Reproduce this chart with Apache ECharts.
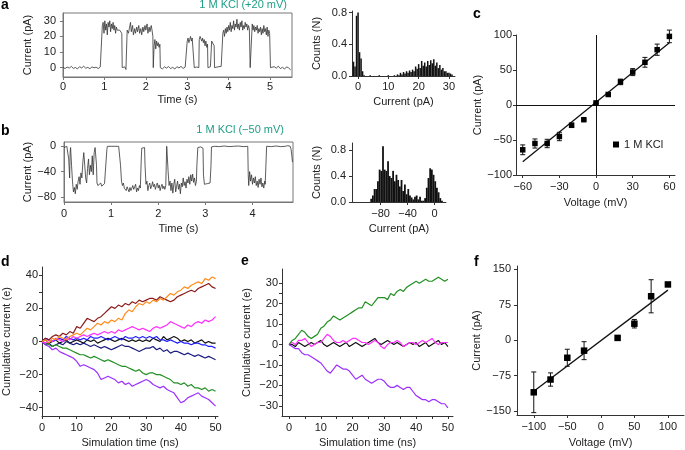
<!DOCTYPE html>
<html><head><meta charset="utf-8">
<script src="https://cdn.jsdelivr.net/npm/echarts@6/dist/echarts.min.js"></script>
<style>html,body{margin:0;padding:0;background:#fff}#chart{width:685px;height:450px}</style>
</head><body><div id="chart"></div>
<script>
// ---------- DATA ----------
const aTime = [0.00,0.05,0.10,0.15,0.20,0.25,0.30,0.35,0.40,0.45,0.50,0.55,0.60,0.65,0.70,0.75,0.80,0.85,0.90,0.94,
0.95,0.97,0.99,1.01,1.03,1.05,1.07,1.09,1.11,1.13,1.15,1.17,1.19,1.21,1.23,1.25,1.27,1.29,1.31,1.33,1.35,1.37,1.40,1.42,
1.43,1.46,1.49,1.52,1.54,
1.55,1.58,1.61,1.63,1.65,1.68,1.70,1.73,1.75,1.78,1.80,1.83,1.85,1.88,1.90,1.93,1.95,1.98,2.00,2.03,2.05,2.08,2.10,2.13,2.15,2.17,
2.18,2.19,2.20,2.22,2.24,2.26,2.28,2.30,2.32,2.34,
2.35,2.40,2.45,2.50,2.55,2.60,2.65,2.70,2.75,2.80,2.85,2.90,2.95,2.99,
3.00,3.02,3.04,3.06,3.08,3.10,3.12,3.14,3.16,
3.17,3.20,3.23,3.26,3.28,
3.29,3.31,3.33,3.35,3.37,3.39,3.41,3.43,3.45,3.47,3.49,
3.50,3.53,3.56,3.58,
3.59,3.61,3.63,3.65,
3.66,3.70,3.74,3.78,3.82,3.85,
3.86,3.88,3.90,3.92,3.94,3.96,3.98,4.00,4.02,4.04,4.06,4.08,4.10,4.12,4.14,4.16,4.18,4.20,4.22,4.24,4.26,4.28,4.30,4.32,4.34,4.36,4.38,4.40,4.42,4.44,4.46,4.48,4.50,4.51,
4.52,4.55,4.56,
4.57,4.59,4.61,4.63,4.65,4.67,4.69,4.71,4.73,4.75,4.77,4.79,4.81,4.83,4.85,4.87,4.89,4.91,4.93,4.95,4.97,4.99,5.00,
5.01,5.05,5.10,5.15,5.20,5.25,5.30,5.35,5.40,5.45,5.50];
const aCurrent = [0.2,-0.6,0.4,-0.3,0.8,-0.5,0.1,-0.8,0.6,-0.2,0.9,-0.4,0.2,-0.7,0.5,-0.1,0.3,-0.6,0.4,0.0,
27,29,22,30,24,28,21,29,26,30,23,28,25,29,24,27,22,26,24,25,23,24,23,22,
0,-1,0.5,-1.2,0,
24,22,26,29,23,27,21,25,22,26,23,27,22,25,21,26,23,27,24,28,22,26,23,27,24,20,
0,-1,14,18,12,17,14,16,13,15,
0,-0.8,0.5,-0.3,0.7,-0.6,0.2,-0.9,0.6,-0.2,0.8,-0.5,0.3,0,
17,19,16,18,20,17,19,18,20,
0,-1,0.4,-0.6,0,
18,20,19,17,19,16,18,14,17,13,15,
0,-1,0.6,0,
17,16,17,14,
0,-1,0.5,-0.4,0.8,0,
22,24,20,25,22,26,23,27,24,29,23,27,25,30,24,28,26,31,25,28,24,29,26,30,24,27,25,29,26,28,24,27,25,26,
0,-1,0,
28,24,27,23,26,24,27,22,25,23,26,21,25,22,27,23,25,21,26,20,24,22,23,
0,-0.8,0.6,-0.3,0.9,-0.6,0.2,-0.9,0.5,-0.2,-1.5];

const aHistCurrent = [-1.5,-1,-0.5,0,0.5,1,1.5,2,4,7,10,12,13,13.5,14,14.5,15,15.5,16,16.5,17,17.5,18,18.5,19,19.5,20,20.5,21,21.5,22,22.5,23,23.5,24,24.5,25,25.5,26,26.5,27,27.5,28,28.5,29,29.5,30,30.5,31];
const aHistCount = [0.18,0.12,0.76,0.80,0.30,0.22,0.06,0.01,0.01,0.01,0.01,0.01,
0.02,0.01,0.04,0.02,0.05,0.03,0.06,0.04,0.07,0.05,0.08,0.06,0.12,0.09,0.15,0.10,0.19,0.13,0.17,0.12,
0.19,0.14,0.20,0.16,0.21,0.13,0.17,0.10,0.14,0.08,0.10,0.06,0.06,0.04,0.04,0.03,0.02];

const bTime = [0.00,0.02,0.04,0.06,0.08,0.10,0.12,0.13,0.14,0.16,0.18,0.20,0.22,0.24,0.26,0.28,0.30,0.32,0.34,0.36,0.38,0.40,0.42,0.44,0.46,0.48,0.50,0.52,0.54,0.56,0.58,0.60,0.62,0.64,0.66,0.68,0.69,
0.70,0.72,0.74,0.76,0.78,0.80,0.82,0.84,0.86,0.88,0.89,
0.91,0.92,0.96,1.00,1.04,1.08,1.12,1.16,1.19,
1.20,1.22,1.24,1.26,1.28,1.30,1.32,1.34,1.36,1.38,1.40,1.42,1.44,1.46,1.48,1.50,1.52,1.54,1.56,1.58,1.60,1.62,
1.64,1.65,1.68,1.71,
1.72,1.74,1.76,1.78,1.80,1.82,1.84,1.86,1.88,1.90,1.92,1.94,1.96,1.98,2.00,2.02,2.04,2.06,2.08,2.10,2.12,2.14,2.16,
2.17,2.18,2.20,
2.21,2.23,2.25,2.27,2.29,2.31,2.33,2.35,2.37,2.39,2.41,2.43,2.45,2.47,2.49,2.51,2.53,2.55,2.57,2.59,2.61,2.63,2.65,2.67,2.69,2.71,2.73,2.75,2.77,2.79,2.81,
2.82,2.84,2.86,2.90,2.93,2.95,
2.96,2.98,3.00,3.02,3.04,3.06,3.08,3.10,
3.12,3.13,3.20,3.30,3.40,3.50,3.60,3.70,3.80,3.90,
3.91,3.92,3.94,3.96,3.98,4.00,4.02,4.04,4.06,4.08,4.10,4.12,4.14,4.16,4.18,4.20,4.22,4.24,4.26,4.27,
4.29,4.30,4.40,4.50,4.60,4.70,4.75,4.78,4.80,4.82,4.85];
const bCurrent = [-2,0,-5,0,-3,-20,-50,-10,-2,-30,-55,-72,-65,-75,-60,-68,-55,-48,-60,-42,-50,-25,-10,-30,-50,-58,-35,-20,-45,-30,-40,-15,-45,-10,-2,-5,-30,
-58,-62,-60,-65,-58,-63,-60,-66,-59,-62,-60,
-5,0,-0.5,0,-1,0,-0.5,0,-1,
-30,-55,-62,-58,-66,-63,-70,-64,-68,-72,-65,-70,-66,-62,-68,-64,-60,-72,-66,-70,-62,-66,
-20,-3,0,-2,
-30,-60,-55,-70,-62,-58,-67,-63,-56,-64,-60,-68,-62,-58,-66,-61,-70,-64,-60,-67,-63,-68,-62,
-30,0,-2,
-40,-62,-55,-70,-58,-74,-60,-52,-72,-63,-55,-68,-60,-75,-58,-64,-50,-62,-56,-66,-52,-58,-48,-60,-45,-55,-44,-57,-50,-62,-55,
-30,-2,0,-1,0,-3,
-45,-60,-58,-62,-59,-61,-60,-58,
-30,-1,0,-0.5,0.5,-0.5,0,0.5,-0.5,0,
-45,-62,-40,-55,-45,-60,-50,-58,-48,-62,-55,-65,-52,-60,-50,-64,-58,-66,-55,-60,
-20,0,-0.5,0.5,-0.5,0,1,3,0,-5,-25];

const bHistCurrent = [-94,-91.5,-89,-86.5,-84,-81.5,-79,-76.5,-74,-71.5,-69,-66.5,-64,-61.5,-59,-56.5,-54,-51.5,-49,-46.5,-44,-41.5,-39,-36.5,-34,-31.5,-29,-26.5,-24,-21.5,-19,-16.5,-14,-11.5,-9,-6.5,-4,-1.5,1,3.5,6,8.5,11];
const bHistCount = [0.05,0.10,0.20,0.20,0.32,0.50,0.48,0.86,0.50,0.48,0.63,0.40,0.37,0.48,0.32,0.42,0.34,0.24,0.34,0.17,0.27,0.12,0.20,0.10,0.07,0.04,0.08,0.10,0.04,0.08,0.02,0.02,0.06,0.22,0.37,0.52,0.50,0.42,0.32,0.22,0.15,0.06,0.02];

const cVoltage = [-60,-50,-40,-30,-20,-10,0,10,20,30,40,50,60];
const cCurrent = [-64,-55,-55,-45,-29,-21,3,15,33,47,61,79,98];
const cError = [7,6.5,6,6,3,1,1,2,4,5,7,8,9];
const cFitV = [-60,60];
const cFitI = [-81,89];

const simTime = [0,1,2,3,4,5,6,7,8,9,10,11,12,13,14,15,16,17,18,19,20,21,22,23,24,25,26,27,28,29,30,31,32,33,34,35,36,37,38,39,40,41,42,43,44,45,46,47,48,49,50];
const dOrange = [0,1,-1,2,1,3,2,1,3,4,5,4,6,8,7,9,11,10,12,11,13,12,14,13,17,19,18,21,23,22,24,23,25,24,26,25,27,29,28,30,31,33,32,34,35,36,35,38,37,39,38];
const dDarkRed = [0,2,1,3,4,3,5,4,6,5,9,8,11,14,13,12,14,15,17,19,21,20,22,21,23,22,24,23,25,24,25,26,26,25,27,26,25,24,25,27,28,29,30,31,30,32,33,34,35,33,32];
const dMagenta = [0,-1,1,0,2,1,0,2,1,3,2,3,4,3,4,5,4,5,6,5,6,5,7,6,7,8,9,8,7,8,7,6,8,9,8,9,10,12,11,10,9,8,10,9,11,12,11,13,12,13,15];
const dBlack = [0,1,-1,0,1,-1,0,1,-1,0,1,0,-1,1,0,1,-1,0,1,2,1,0,1,2,1,0,1,0,1,0,1,0,2,1,0,3,1,2,3,2,0,1,0,1,-1,0,1,-1,0,-1,-1];
const dBlue = [0,2,1,0,1,2,1,3,2,1,2,1,2,1,3,2,2,3,2,1,2,3,2,1,3,2,2,3,2,3,2,3,2,3,1,1,0,1,0,-1,0,-1,-1,-2,-1,-1,-2,-2,-3,-3,-4];
const dNavy = [0,-2,-1,-3,-2,-1,-2,0,-1,-2,-1,-2,-1,-2,-3,-2,-3,-4,-3,-4,-5,-4,-3,-2,-3,-3,-4,-5,-6,-5,-4,-4,-3,-5,-4,-6,-5,-7,-6,-6,-7,-8,-7,-8,-9,-8,-9,-10,-9,-10,-11];
const dGreen = [0,-1,-2,-3,-2,-3,-4,-4,-5,-6,-7,-8,-8,-9,-10,-9,-10,-11,-12,-11,-12,-13,-14,-15,-15,-16,-17,-18,-17,-19,-20,-19,-19,-20,-20,-21,-22,-23,-25,-25,-26,-25,-27,-26,-28,-28,-29,-28,-30,-29,-30];
const dPurple = [0,-2,-3,-5,-4,-6,-7,-8,-9,-10,-12,-15,-14,-15,-16,-17,-19,-23,-22,-21,-22,-23,-25,-24,-26,-25,-27,-26,-25,-24,-23,-24,-26,-27,-28,-27,-29,-30,-31,-34,-37,-36,-34,-33,-32,-31,-33,-34,-35,-37,-39];

const eGreen = [0,2,3,5,7,6,4,3,4,5,8,9,11,12,14,13,12,13,14,15,16,17,18,18,21,20,19,21,23,23,23,22,25,24,26,27,26,28,29,30,31,30,31,32,31,31,32,33,32,31,32];
const ePurple = [0,-1,-2,-2,-4,-5,-5,-6,-7,-8,-9,-11,-13,-14,-12,-10,-11,-12,-12,-13,-15,-17,-16,-15,-17,-18,-19,-18,-17,-17,-18,-20,-21,-21,-20,-21,-22,-21,-21,-23,-25,-26,-27,-27,-28,-27,-27,-28,-29,-29,-31];
const eMagenta = [0,1,0,2,2,3,1,-1,0,1,1,3,5,4,2,1,1,2,1,2,3,3,2,1,1,0,1,2,1,-1,-2,0,1,1,2,1,-1,0,1,1,0,1,2,1,2,3,1,0,1,1,1];
const eBlack = [0,0,-1,1,0,-1,0,1,0,1,2,0,-1,0,1,0,-1,0,1,-1,0,1,0,-1,0,1,2,3,1,0,1,2,1,0,1,0,-1,0,1,0,1,-1,0,1,-1,0,1,2,0,1,-1];

const fVoltage = [-100,-75,-50,-25,25,50,75,100];
const fCurrent = [-110,-83,-37,-22,5,35,93,118];
const fError = [43,14,18,19,3,9,35,4];
const fFitV = [-100,100];
const fFitI = [-108,106];

// tick labels
const aXTicks = [0,1,2,3,4,5], aYTicks = [0,10,20,30];
const aHXTicks = [0,10,20,30], histYTicks = [0,0.4,0.8];
const bXTicks = [0,1,2,3,4], bYTicks = [-80,-40,0];
const bHXTicks = [-80,-40,0];
const cXTicks = [-60,-30,0,30,60], cYTicks = [-100,-50,0,50,100];
const dXTicks = [0,10,20,30,40,50], dXMinor = [0,5,10,15,20,25,30,35,40,45,50];
const dYTicks = [-40,-20,0,20,40], dYMinor = [-40,-30,-20,-10,0,10,20,30,40];
const eYTicks = [-30,-20,-10,0,10,20,30], eYMinor = [-30,-25,-20,-15,-10,-5,0,5,10,15,20,25,30];
const fXTicks = [-100,-50,0,50,100], fYTicks = [-150,-75,0,75,150];

// ---------- CHART ----------
const FONT = '"Liberation Sans", Arial, Helvetica, sans-serif';
const minusFmt = v => String(v).replace('-', '\u2212');
const oneDec = v => Number(v).toFixed(1);
const zip = (xs, ys) => xs.map((x, i) => [x, ys[i]]);
const zip3 = (xs, ys, es) => xs.map((x, i) => [x, ys[i], es[i]]);

function axis(gi, min, max, ticks, labels, o) {
  o = o || {};
  const lc = o.lc || '#333';
  return {
    type: 'value', gridIndex: gi, min: min, max: max,
    name: o.name || '', nameLocation: 'middle', nameGap: o.gap || 20,
    nameTextStyle: {fontSize: 11, color: '#222', fontFamily: FONT},
    axisLine: {show: true, onZero: false, lineStyle: {color: lc, width: 1}},
    axisTick: {show: true, inside: false, length: 3, customValues: ticks, lineStyle: {color: lc, width: 1}},
    axisLabel: {show: true, customValues: labels, margin: o.margin || 5, fontSize: 11, color: '#222', fontFamily: FONT, formatter: o.fmt || minusFmt},
    splitLine: {show: false}, minorTick: {show: false}
  };
}
function grid(l, t, w, h, box) {
  return {left: l, top: t, width: w, height: h, containLabel: false, outerBoundsMode: 'none',
    show: !!box, borderColor: '#777', borderWidth: 1, backgroundColor: 'transparent'};
}
function errRender(params, api) {
  const x = api.value(0), y = api.value(1), e = api.value(2);
  const p1 = api.coord([x, y + e]), p2 = api.coord([x, y - e]);
  const w = 2.5, st = {stroke: '#111', lineWidth: 1};
  return {type: 'group', children: [
    {type: 'line', shape: {x1: p1[0], y1: p1[1], x2: p2[0], y2: p2[1]}, style: st},
    {type: 'line', shape: {x1: p1[0] - w, y1: p1[1], x2: p1[0] + w, y2: p1[1]}, style: st},
    {type: 'line', shape: {x1: p2[0] - w, y1: p2[1], x2: p2[0] + w, y2: p2[1]}, style: st}
  ]};
}
function traceLine(name, xi, xs, ys, color, w) {
  return {name: name, type: 'line', xAxisIndex: xi, yAxisIndex: xi, data: zip(xs, ys), showSymbol: false, symbol: 'none',
    lineStyle: {color: color, width: w || 1.2}, itemStyle: {color: color}, silent: true, z: 3};
}

const letterStyle = {font: 'bold 14px ' + FONT, fill: '#000'};
function letter(t, x, y) { return {type: 'text', x: x, y: y, style: Object.assign({text: t, textVerticalAlign: 'top', verticalAlign: 'top'}, letterStyle)}; }
function teal(t, x, y) { return {type: 'text', x: x, y: y, style: {text: t, font: '11px ' + FONT, fill: '#1f9e86', textAlign: 'right', align: 'right', textVerticalAlign: 'top', verticalAlign: 'top'}}; }

const option = {
  animation: false,
  backgroundColor: '#fff',
  textStyle: {fontFamily: FONT},
  grid: [
    grid(63, 13, 229, 64, true),    // a trace
    grid(352, 11, 103, 65),         // a hist
    grid(64, 142, 229, 60, true),   // b trace
    grid(352, 143, 94, 59),         // b hist
    grid(516, 35, 159, 140),        // c
    grid(42, 267, 176, 149),        // d
    grid(282, 269, 171, 147),       // e
    grid(517, 266, 167, 149)        // f
  ],
  xAxis: [
    axis(0, 0, 5.53, aXTicks, aXTicks, {name: 'Time (s)', gap: 17, margin: 4, lc: '#777'}),
    axis(1, -2, 32, aHXTicks, aHXTicks, {name: 'Current (pA)', gap: 20, margin: 5}),
    axis(2, 0, 4.86, bXTicks, bXTicks, {name: 'Time (s)', gap: 21, margin: 6, lc: '#777'}),
    axis(3, -122.5, 17, bHXTicks, bHXTicks, {name: 'Current (pA)', gap: 21, margin: 6}),
    axis(4, -65.5, 64.6, cXTicks, cXTicks, {name: 'Voltage (mV)', gap: 22, margin: 6}),
    axis(5, 0, 50.7, dXMinor, dXTicks, {name: 'Simulation time (ns)', gap: 21, margin: 6}),
    axis(6, -2.2, 51.6, dXMinor, dXTicks, {name: 'Simulation time (ns)', gap: 21, margin: 6}),
    axis(7, -125, 124, fXTicks, fXTicks, {name: 'Voltage (mV)', gap: 22, margin: 6})
  ],
  yAxis: [
    axis(0, -6, 35, aYTicks, aYTicks, {name: 'Current (pA)', gap: 30, margin: 7, lc: '#777'}),
    axis(1, 0, 0.82, histYTicks, histYTicks, {name: 'Counts (N)', gap: 30, margin: 5, fmt: oneDec}),
    axis(2, -88, 6.8, bYTicks, bYTicks, {name: 'Current (pA)', gap: 31, margin: 8, lc: '#777'}),
    axis(3, 0, 0.91, histYTicks, histYTicks, {name: 'Counts (N)', gap: 30, margin: 6, fmt: oneDec}),
    axis(4, -100, 100, cYTicks, cYTicks, {name: 'Current (pA)', gap: 29, margin: 4}),
    axis(5, -45, 45, dYMinor, dYTicks, {name: 'Cumulative current (e)', gap: 30, margin: 4}),
    axis(6, -35, 37, eYMinor, eYTicks, {name: 'Cumulative current (e)', gap: 30, margin: 4}),
    axis(7, -158, 157, fYTicks, fYTicks, {name: 'Current (pA)', gap: 29, margin: 6})
  ],
  legend: {
    data: ['1 M KCl'], left: 608, top: 134, icon: 'rect', itemWidth: 6, itemHeight: 6, itemGap: 4,
    textStyle: {fontSize: 11, color: '#222', fontFamily: FONT}, selectedMode: false
  },
  graphic: [
    letter('a', 1, -2), letter('b', 1, 124), letter('c', 473, 7),
    letter('d', 1, 255), letter('e', 241, 254), letter('f', 474, 255),
    teal('1 M KCl (+20 mV)', 287, -1), teal('1 M KCl (\u221250 mV)', 284, 124)
  ],
  series: [
    traceLine('aTrace', 0, aTime, aCurrent, '#333', 0.8),
    {type: 'bar', xAxisIndex: 1, yAxisIndex: 1, data: zip(aHistCurrent, aHistCount), barWidth: 1.5, itemStyle: {color: '#111'}, silent: true},
    traceLine('bTrace', 2, bTime, bCurrent, '#333', 0.8),
    {type: 'bar', xAxisIndex: 3, yAxisIndex: 3, data: zip(bHistCurrent, bHistCount), barWidth: 1.8, itemStyle: {color: '#111'}, silent: true},
    // c
    {type: 'line', xAxisIndex: 4, yAxisIndex: 4, data: zip(cFitV, cFitI), showSymbol: false, symbol: 'none',
      lineStyle: {color: '#111', width: 1.3}, silent: true,
      markLine: {silent: true, symbol: 'none', label: {show: false}, lineStyle: {color: '#111', width: 1, type: 'solid'},
        data: [{xAxis: 0}, {yAxis: 0}]}},
    {type: 'custom', xAxisIndex: 4, yAxisIndex: 4, data: zip3(cVoltage, cCurrent, cError), renderItem: errRender, encode: {x: 0, y: 1}, silent: true, z: 4},
    {name: '1 M KCl', type: 'scatter', xAxisIndex: 4, yAxisIndex: 4, data: zip(cVoltage, cCurrent), symbol: 'rect', symbolSize: 5.5, itemStyle: {color: '#000', opacity: 1}, silent: true, z: 5},
    // d
    traceLine('dBlack', 5, simTime, dBlack, '#111'),
    traceLine('dBlue', 5, simTime, dBlue, '#1f1fff'),
    traceLine('dNavy', 5, simTime, dNavy, '#1c1c80'),
    traceLine('dGreen', 5, simTime, dGreen, '#239023'),
    traceLine('dPurple', 5, simTime, dPurple, '#9b30ff'),
    traceLine('dMagenta', 5, simTime, dMagenta, '#ff30ff'),
    traceLine('dDarkRed', 5, simTime, dDarkRed, '#8b1a1a'),
    traceLine('dOrange', 5, simTime, dOrange, '#ff8c1a'),
    // e
    traceLine('eBlack', 6, simTime, eBlack, '#111'),
    traceLine('eMagenta', 6, simTime, eMagenta, '#ff30ff'),
    traceLine('ePurple', 6, simTime, ePurple, '#9b30ff'),
    traceLine('eGreen', 6, simTime, eGreen, '#239023'),
    // f
    {type: 'line', xAxisIndex: 7, yAxisIndex: 7, data: zip(fFitV, fFitI), showSymbol: false, symbol: 'none', lineStyle: {color: '#111', width: 1.3}, silent: true},
    {type: 'custom', xAxisIndex: 7, yAxisIndex: 7, data: zip3(fVoltage, fCurrent, fError), renderItem: errRender, encode: {x: 0, y: 1}, silent: true, z: 4},
    {name: 'fPoints', type: 'scatter', xAxisIndex: 7, yAxisIndex: 7, data: zip(fVoltage, fCurrent), symbol: 'rect', symbolSize: 6.5, itemStyle: {color: '#000', opacity: 1}, silent: true, z: 5}
  ]
};
const chart = echarts.init(document.getElementById('chart'), null, {renderer: 'canvas'});
chart.setOption(option);
</script></body></html>
